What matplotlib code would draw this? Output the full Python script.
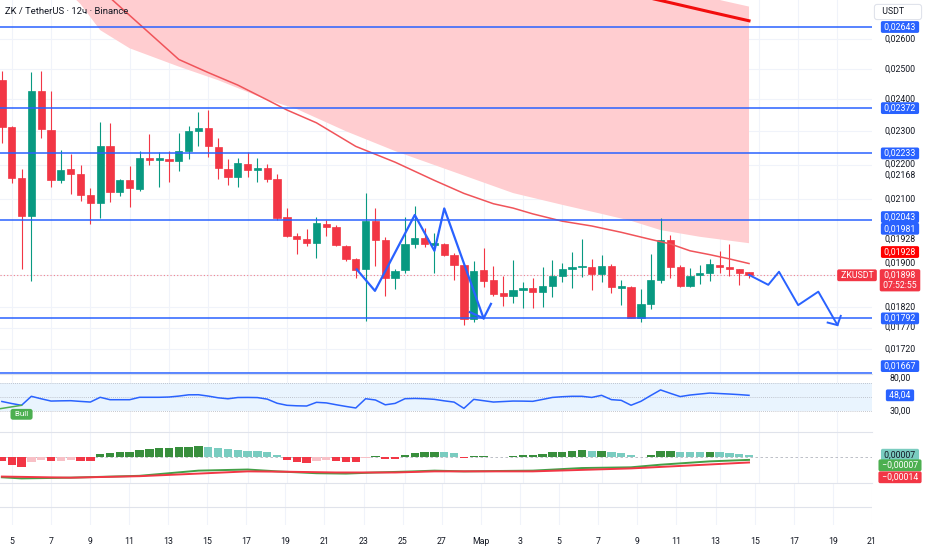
import numpy as np
import matplotlib
matplotlib.use("Agg")
import matplotlib.pyplot as plt
from matplotlib.patches import Rectangle

plt.rcParams['font.family'] = ['Roboto', 'DejaVu Sans']

# ZK / TetherUS, 12h candles, 4 Feb 12:00 .. 14 Mar 12:00
opens = [0.02463, 0.02313, 0.02161, 0.02054, 0.02427, 0.02304, 0.02155, 0.02187, 0.02173, 0.02113,
         0.02090, 0.02255, 0.02121, 0.02155, 0.02130, 0.02219, 0.02214, 0.02216, 0.02210, 0.02240,
         0.02301, 0.02310, 0.02252, 0.02187, 0.02164, 0.02202, 0.02184, 0.02190, 0.02158, 0.02052,
         0.02000, 0.01992, 0.01982, 0.02032, 0.02024, 0.01974, 0.01940, 0.01914, 0.02041, 0.01990,
         0.01891, 0.01912, 0.01979, 0.01995, 0.01976, 0.01979, 0.01950, 0.01924, 0.01791, 0.01912,
         0.01886, 0.01854, 0.01846, 0.01861, 0.01866, 0.01856, 0.01871, 0.01896, 0.01914, 0.01919,
         0.01919, 0.01901, 0.01922, 0.01866, 0.01869, 0.01793, 0.01827, 0.01886, 0.01990, 0.01919,
         0.01871, 0.01899, 0.01904, 0.01924, 0.01919, 0.01914, 0.01906]
highs = [0.02492, 0.02316, 0.02187, 0.02489, 0.02492, 0.02427, 0.02243, 0.02231, 0.02199, 0.02132,
         0.02329, 0.02326, 0.02158, 0.02196, 0.02240, 0.02292, 0.02237, 0.02240, 0.02295, 0.02316,
         0.02360, 0.02366, 0.02279, 0.02216, 0.02219, 0.02237, 0.02219, 0.02202, 0.02173, 0.02076,
         0.02008, 0.02019, 0.02051, 0.02043, 0.02030, 0.01976, 0.01942, 0.02118, 0.02076, 0.01997,
         0.01914, 0.02051, 0.02082, 0.02021, 0.02008, 0.01982, 0.01955, 0.01927, 0.01935, 0.01968,
         0.01922, 0.01896, 0.01937, 0.01881, 0.01891, 0.01919, 0.01937, 0.01929, 0.01958, 0.01992,
         0.01940, 0.01950, 0.01927, 0.01886, 0.01871, 0.01864, 0.01953, 0.02049, 0.02003, 0.01924,
         0.01917, 0.01924, 0.01940, 0.01961, 0.01979, 0.01914, 0.01906]
lows = [0.02264, 0.02147, 0.01914, 0.01884, 0.02279, 0.02135, 0.02147, 0.02115, 0.02096, 0.02032,
        0.02049, 0.02093, 0.02110, 0.02079, 0.02124, 0.02199, 0.02135, 0.02150, 0.02181, 0.02216,
        0.02255, 0.02222, 0.02158, 0.02141, 0.02135, 0.02164, 0.02150, 0.02150, 0.02043, 0.01997,
        0.01953, 0.01974, 0.01942, 0.02000, 0.01974, 0.01935, 0.01891, 0.01786, 0.01922, 0.01846,
        0.01864, 0.01904, 0.01968, 0.01971, 0.01904, 0.01947, 0.01886, 0.01776, 0.01783, 0.01869,
        0.01846, 0.01822, 0.01829, 0.01817, 0.01817, 0.01820, 0.01844, 0.01881, 0.01866, 0.01894,
        0.01861, 0.01881, 0.01854, 0.01824, 0.01793, 0.01783, 0.01815, 0.01879, 0.01891, 0.01869,
        0.01869, 0.01876, 0.01884, 0.01904, 0.01896, 0.01874, 0.01891]
closes = [0.02313, 0.02161, 0.02054, 0.02427, 0.02307, 0.02155, 0.02184, 0.02173, 0.02113, 0.02090,
          0.02255, 0.02121, 0.02155, 0.02132, 0.02219, 0.02214, 0.02219, 0.02210, 0.02240, 0.02301,
          0.02310, 0.02255, 0.02190, 0.02164, 0.02205, 0.02184, 0.02190, 0.02158, 0.02049, 0.02000,
          0.01992, 0.01982, 0.02035, 0.02024, 0.01976, 0.01940, 0.01912, 0.02041, 0.01990, 0.01891,
          0.01909, 0.01979, 0.01995, 0.01979, 0.01982, 0.01950, 0.01924, 0.01791, 0.01909, 0.01884,
          0.01851, 0.01846, 0.01861, 0.01866, 0.01856, 0.01871, 0.01896, 0.01914, 0.01919, 0.01922,
          0.01901, 0.01922, 0.01869, 0.01871, 0.01793, 0.01827, 0.01886, 0.01990, 0.01919, 0.01871,
          0.01896, 0.01904, 0.01927, 0.01919, 0.01914, 0.01904, 0.01898]

# moving average (thin) and the slow one (thick), read at some candles
ema_idx = [10, 11, 18, 21, 24, 27, 29, 32, 36, 40, 44, 47, 50, 52, 54, 57, 60, 63, 66, 68, 70, 72, 74, 76]
ema_val = [0.02775, 0.02748, 0.02531, 0.02487, 0.02446, 0.02398, 0.02366, 0.02326, 0.02254, 0.02207,
           0.02154, 0.02117, 0.02088, 0.02076, 0.02060, 0.02040, 0.02027, 0.02010, 0.01991, 0.01979,
           0.01961, 0.01951, 0.01940, 0.01928]
slow_idx = [59, 64, 68, 72, 76]
slow_val = [0.02808, 0.02763, 0.02730, 0.02697, 0.02665]

# pink cloud edges
band_lo_idx = [6, 7, 8, 10, 13, 18, 22, 27, 30, 35, 40, 48, 52, 57, 61, 64, 67, 71, 76]
band_lo = [0.02860, 0.02760, 0.02725, 0.02632, 0.02569, 0.02507, 0.02462, 0.02398, 0.02369, 0.02300,
           0.02240, 0.02158, 0.02118, 0.02085, 0.02060, 0.02041, 0.02016, 0.01998, 0.01981]
band_hi_idx = [6, 40, 66, 73, 76]
band_hi = [0.0330, 0.0310, 0.0285, 0.02740, 0.02716]

# drawn levels and patterns
levels = [0.02643, 0.02372, 0.02233, 0.02043, 0.01792, 0.01667]
zz1_idx = [36.1, 37.95, 42.0, 44.0, 45.0, 49.0, 49.75]
zz1_px = [0.01913, 0.01859, 0.02057, 0.01961, 0.02075, 0.01792, 0.01827]
zz1_wing_idx = [47.6, 49.0]
zz1_wing_px = [0.01807, 0.01792]
zz2_idx = [76.0, 77.96, 79.05, 81.0, 83.05, 85.0, 85.33]
zz2_px = [0.01899, 0.01874, 0.01907, 0.01824, 0.01857, 0.01776, 0.01798]
zz2_wing_idx = [84.0, 85.0]
zz2_wing_px = [0.01782, 0.01776]

price_ticks = [0.026, 0.025, 0.024, 0.023, 0.022, 0.02168, 0.021, 0.01928, 0.019, 0.0182, 0.0177, 0.0172]

rsi = [43.9, 41.0, 38.5, 51.2, 47.7, 44.5, 44.8, 45.0, 44.0, 43.1,
       49.8, 46.4, 46.4, 46.4, 49.8, 49.8, 49.8, 50.2, 51.5, 53.3,
       53.4, 51.5, 49.1, 47.7, 49.5, 49.6, 49.4, 47.2, 41.4, 38.5,
       37.8, 37.5, 42.7, 41.9, 39.3, 36.9, 34.7, 47.8, 46.0, 39.2,
       41.2, 47.8, 48.2, 47.8, 46.9, 44.8, 43.0, 34.2, 46.9, 45.0,
       43.1, 43.8, 44.5, 44.4, 44.1, 46.8, 49.6, 50.6, 51.2, 51.2,
       49.6, 52.6, 46.5, 45.5, 38.6, 44.1, 52.3, 60.2, 55.4, 50.8,
       53.0, 54.4, 55.8, 55.1, 54.4, 53.6, 52.6]
rsi_last_text = '48,04'
bull_idx = [-2, 2]
bull_rsi = [29.7, 38.5]

hist = [-0.00009, -0.00020, -0.00026, -0.00014, -0.00006, -0.00011, -0.00010, -0.00007, -0.00010, -0.00010,
        0.00010, 0.00011, 0.00014, 0.00015, 0.00021, 0.00023, 0.00025, 0.00026, 0.00027, 0.00029,
        0.00031, 0.00029, 0.00025, 0.00022, 0.00020, 0.00018, 0.00017, 0.00014, 0.00005, -0.00008,
        -0.00013, -0.00015, -0.00010, -0.00008, -0.00011, -0.00013, -0.00014, -0.00002, 0.00003, -0.00004,
        -0.00004, 0.00005, 0.00012, 0.00013, 0.00014, 0.00014, 0.00012, -0.00001, 0.00003, 0.00004,
        0.00002, 0.00001, 0.00004, 0.00005, 0.00006, 0.00010, 0.00013, 0.00015, 0.00017, 0.00019,
        0.00017, 0.00018, 0.00014, 0.00012, 0.00005, 0.00002, 0.00007, 0.00016, 0.00017, 0.00014,
        0.00014, 0.00013, 0.00014, 0.00013, 0.00011, 0.00009, 0.00007]
macd_idx = [0, 2, 7, 14, 20, 25, 28, 32, 35, 38, 42, 44, 47, 54, 59, 64, 67, 72, 76]
macd_val = [-0.00054, -0.00057, -0.00055, -0.00050, -0.00036, -0.00033, -0.00038, -0.00043, -0.00044, -0.00041,
            -0.00038, -0.00036, -0.00038, -0.00036, -0.00029, -0.00027, -0.00020, -0.00011, -0.00007]
signal_idx = [0, 7, 14, 20, 25, 29, 34, 37, 40, 44, 54, 64, 67, 76]
signal_val = [-0.00052, -0.00055, -0.00051, -0.00044, -0.00038, -0.00039, -0.00041, -0.00041, -0.00041,
              -0.00038, -0.00038, -0.00030, -0.00026, -0.00014]

date_labels = ['5', '7', '9', '11', '13', '15', '17', '19', '21', '23', '25', '27', 'Мар',
               '3', '5', '7', '9', '11', '13', '15', '17', '19', '21']
date_pos = 1 + 4 * np.arange(len(date_labels))   # 5 Feb 00:00 is candle 1, two days = 4 candles

W, H = 932, 550
GREEN = '#089981'
RED = '#f23645'
BLUE = '#2962ff'
GRID = '#f0f3fa'
TXT = '#131722'
SEP = '#e0e3eb'
FS = 6.3

fig = plt.figure(figsize=(W / 100, H / 100), dpi=100)


def pane(top, bottom, sep=True):
    a = fig.add_axes([0, 1 - bottom / H, 872 / W, (bottom - top) / H])
    for s in a.spines.values():
        s.set_visible(False)
    if sep:
        a.spines['top'].set_visible(True)
        a.spines['top'].set_color(SEP)
        a.spines['top'].set_linewidth(0.8)
    a.set_xlim(-0.19, 88.51)
    for p in date_pos:
        a.axvline(p, color=GRID, lw=0.8, zorder=0)
    return a


def tag(a, y, text, fc=None, tc=TXT, dy=0, dx=28, fs=FS):
    bbox = None
    if fc:
        bbox = dict(boxstyle='round,pad=0.16,rounding_size=0.2', fc=fc, ec='none')
        text = ' ' + text + ' '
    a.annotate(text, xy=(1, y), xycoords=('axes fraction', 'data'),
               xytext=(dx * 0.72, -dy * 0.72), textcoords='offset points',
               ha='center', va='center', fontsize=fs, color=tc, bbox=bbox,
               annotation_clip=False, zorder=20)


def fmt(v, d=5):
    s = f'{abs(v):.{d}f}'.replace('.', ',')
    return ('\u2212' + s) if v < 0 else s


# ---- price pane
ax = pane(0, 374, sep=False)
ax.set_yscale('log')
ax.set_ylim(0.016639, 0.027399)
ax.yaxis.set_major_locator(matplotlib.ticker.NullLocator())
ax.yaxis.set_minor_locator(matplotlib.ticker.NullLocator())
ax.set_xticks([])

for t in price_ticks:
    if t not in (0.01928, 0.02168):
        ax.axhline(t, color=GRID, lw=0.8, zorder=0)

ax.fill(np.r_[band_lo_idx, band_hi_idx[::-1]], np.r_[band_lo, band_hi[::-1]],
        color='#ffcdd0', lw=0, zorder=1)

idx = np.arange(len(opens))
o, hi, lo, c = (np.array(v) for v in (opens, highs, lows, closes))
col = np.where(c >= o, GREEN, RED)
ax.vlines(idx, lo, hi, colors=col, lw=0.8, zorder=3)
ax.bar(idx, np.abs(c - o), bottom=np.minimum(o, c), width=0.74, color=col,
       edgecolor=col, linewidth=0.5, zorder=4)

ax.plot(ema_idx, ema_val, color='#f0545a', lw=1.1, zorder=5)
ax.plot(slow_idx, slow_val, color='#f20d0d', lw=2.2, zorder=5)

for lv in levels:
    ax.axhline(lv, color=BLUE, lw=1.1, zorder=6)
ax.axhline(closes[-1], color=RED, lw=0.8, ls=(0, (1, 2)), alpha=0.6, zorder=2)

ax.plot(zz1_idx, zz1_px, color=BLUE, lw=1.6, zorder=7)
ax.plot(zz1_wing_idx, zz1_wing_px, color=BLUE, lw=1.6, zorder=7)
ax.plot(zz2_idx, zz2_px, color=BLUE, lw=1.4, zorder=7, clip_on=False)
ax.plot(zz2_wing_idx, zz2_wing_px, color=BLUE, lw=1.4, zorder=7)

tick_shift = {0.01928: -24.5, 0.019: -11.6}
for t in price_ticks:
    tag(ax, t, fmt(t), dy=tick_shift.get(t, 0))
level_shift = {0.02043: -3, 0.01667: -6.5}
for lv in levels:
    tag(ax, lv, fmt(lv), fc=BLUE, tc='white', dy=level_shift.get(lv, 0))
tag(ax, band_lo[-1], fmt(band_lo[-1]), fc=BLUE, tc='white', dy=-14.4)
tag(ax, ema_val[-1], fmt(ema_val[-1]), fc='#ff0000', tc='white', dy=-11.5)
tag(ax, closes[-1], fmt(closes[-1]) + ' \n 07:52:55', fc=RED, tc='white', dy=5)
tag(ax, closes[-1], 'ZKUSDT', fc=RED, tc='white', dx=-15)

# ---- RSI pane
ax_rsi = pane(374, 432)
ax_rsi.set_ylim(0.8, 82.7)
ax_rsi.set_xticks([])
ax_rsi.set_yticks([])
ax_rsi.axhspan(30, 70, color='#e9f4fe', lw=0, zorder=0)
for lvl in (70, 50, 30):
    ax_rsi.axhline(lvl, color='#b2b5be', lw=0.6, ls=(0, (1, 1.5)), zorder=1)
ax_rsi.plot(idx, rsi, color=BLUE, lw=1.1, zorder=3)
ax_rsi.plot(bull_idx, bull_rsi, color='#4caf50', lw=1.1, zorder=3)
ax_rsi.annotate(' Bull ', xy=(bull_idx[-1], bull_rsi[-1]), xytext=(0, -9 * 0.72),
                textcoords='offset points', ha='center', va='center', fontsize=5.8,
                color='white', bbox=dict(boxstyle='round,pad=0.3', fc='#4caf50', ec='none'),
                zorder=10)
tag(ax_rsi, 80, fmt(80, 2), dy=2.5)
tag(ax_rsi, 30, fmt(30, 2))
tag(ax_rsi, rsi[-1], rsi_last_text, fc=BLUE, tc='white')

# ---- MACD pane
ax_m = pane(432, 483)
ax_m.set_ylim(-0.000694, 0.000683)
ax_m.set_xticks([])
ax_m.set_yticks([])
hcol = []
for i, v in enumerate(hist):
    prev = hist[i - 1] if i else v
    if v >= 0:
        hcol.append('#388e3c' if v > prev else '#7accc0')
    else:
        hcol.append('#f8c0c6' if v > prev else RED)
ax_m.bar(idx, hist, width=0.85, color=hcol, lw=0, zorder=2)
ax_m.axhline(0, color='#b2b5be', lw=0.6, ls=(0, (3, 3)), zorder=1)
ax_m.plot(macd_idx, macd_val, color='#43a047', lw=1.4, zorder=3)
ax_m.plot(signal_idx, signal_val, color=RED, lw=1.4, zorder=4)
tag(ax_m, hist[-1], fmt(hist[-1]), fc='#7accc0', tc=TXT)
tag(ax_m, macd_val[-1], fmt(macd_val[-1]), fc='#4caf50', tc='white', dy=5.4)
tag(ax_m, signal_val[-1], fmt(signal_val[-1]), fc=RED, tc='white', dy=14.8)

# ---- empty pane + time axis
ax_b = pane(483, 525)
ax_b.set_ylim(0, 42)
ax_b.set_yticks([])
ax_b.axhline(18, color=SEP, lw=0.8, zorder=1)
ax_b.set_xticks(date_pos, date_labels)
ax_b.tick_params(axis='x', length=0, pad=8.5, labelsize=FS, labelcolor=TXT)

fig.add_artist(Rectangle((878 / W, 0), 54 / W, 24 / H, transform=fig.transFigure,
                         color='white', zorder=10))

fig.text(5 / W, 1 - 11 / H, 'ZK / TetherUS · 12ч · Binance', fontsize=6.8,
         color=TXT, va='center', ha='left')
fig.text(898 / W, 1 - 12 / H, '  USDT       ', fontsize=FS, color=TXT, va='center',
         ha='center', bbox=dict(boxstyle='round,pad=0.35,rounding_size=0.3', fc='white',
                                ec=SEP, lw=0.8))

fig.savefig('out.png', dpi=100)
